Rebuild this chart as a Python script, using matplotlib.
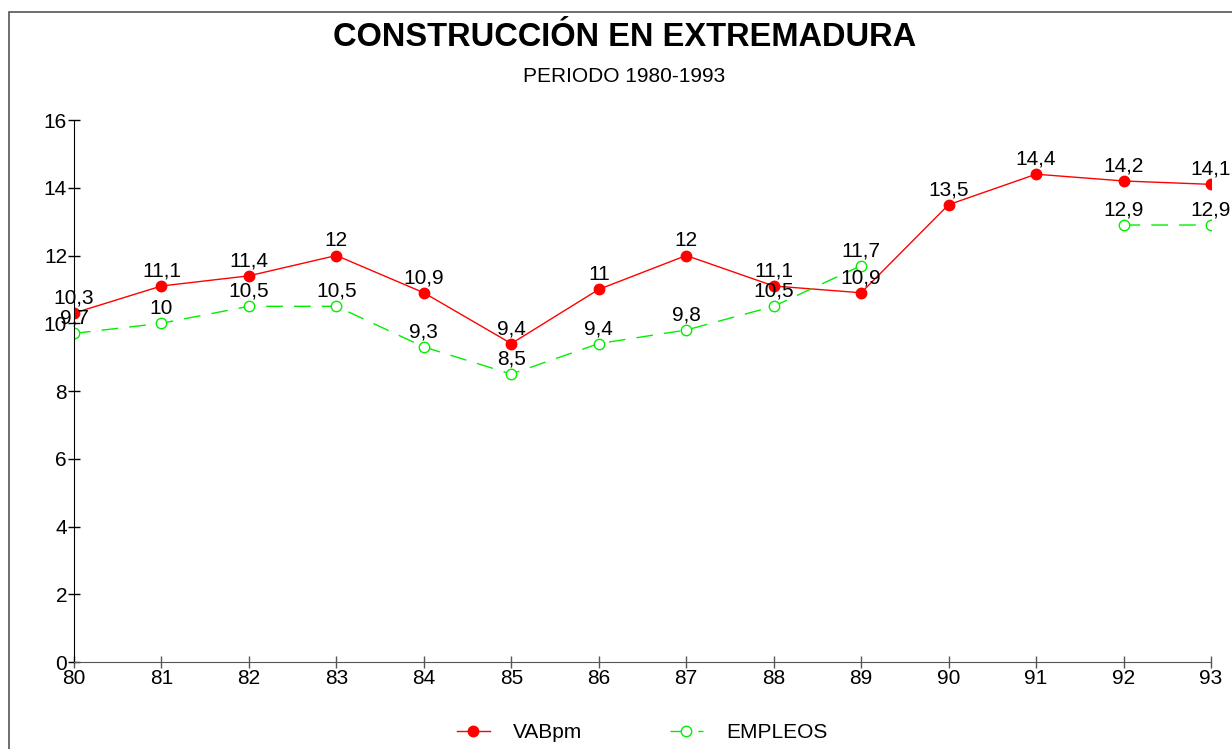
import numpy as np
import matplotlib
matplotlib.use('Agg')
import matplotlib.pyplot as plt
from matplotlib.patches import Rectangle

plt.rcParams['font.family'] = ['Liberation Sans', 'DejaVu Sans']

years   = [80, 81, 82, 83, 84, 85, 86, 87, 88, 89, 90, 91, 92, 93]
vabpm   = [10.3, 11.1, 11.4, 12, 10.9, 9.4, 11, 12, 11.1, 10.9, 13.5, 14.4, 14.2, 14.1]
empleos = [9.7, 10, 10.5, 10.5, 9.3, 8.5, 9.4, 9.8, 10.5, 11.7, np.nan, np.nan, 12.9, 12.9]


def fmt(v):
    s = ('%.1f' % v).rstrip('0').rstrip('.')
    return s.replace('.', ',')


fig = plt.figure(figsize=(12.32, 7.49), dpi=100)
ax = fig.add_axes([74 / 1232, 1 - 662 / 749, (1211 - 74) / 1232, (662 - 120) / 749])

# outer frame (only left and top edges visible)
fig.patches.append(Rectangle((9 / 1232, -0.1), 1.2, 1 - 12 / 749 + 0.1,
                             transform=fig.transFigure, fill=False,
                             edgecolor='#555555', linewidth=1.2))

ax.plot(years, vabpm, color='red', lw=1, marker='o', ms=7.5,
        markerfacecolor='red', markeredgecolor='red', label='VABpm')
ax.plot(years, empleos, color='#00ee00', lw=1, dashes=(12, 8), marker='o', ms=7.5,
        markerfacecolor='white', markeredgecolor='#00ee00', label='EMPLEOS')

for x, v in zip(years, vabpm):
    ax.annotate(fmt(v), (x, v), xytext=(0, 4), textcoords='offset points',
                ha='center', va='bottom', fontsize=15)
for x, v in zip(years, empleos):
    if np.isnan(v):
        continue
    ax.annotate(fmt(v), (x, v), xytext=(0, 4), textcoords='offset points',
                ha='center', va='bottom', fontsize=15)

ax.set_xlim(80, 93)
ax.set_ylim(0, 16)
ax.set_xticks(years)
ax.set_yticks(range(0, 17, 2))
ax.tick_params(axis='both', labelsize=15, direction='inout', length=8, width=1, pad=1)
ax.tick_params(axis='x', color='#555555')
ax.spines['top'].set_visible(False)
ax.spines['right'].set_visible(False)
ax.spines['bottom'].set_color('#555555')
ax.set_facecolor('none')

fig.text(0.507, 1 - 37 / 749, 'CONSTRUCCIÓN EN EXTREMADURA', ha='center', va='center',
         fontsize=23.5, fontweight='bold')
fig.text(0.507, 1 - 76 / 749, 'PERIODO 1980-1993', ha='center', va='center',
         fontsize=15)

fig.legend(loc='center', bbox_to_anchor=(0.521, 1 - 733 / 749), ncol=2, frameon=False,
           fontsize=15, handlelength=1.6, columnspacing=4.2, handletextpad=1.1)

fig.savefig('out.png', dpi=100)
